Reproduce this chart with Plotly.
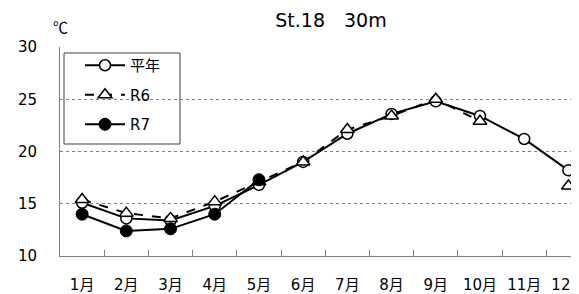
import plotly.graph_objects as go

months = ["1月", "2月", "3月", "4月", "5月", "6月", "7月", "8月", "9月", "10月", "11月", "12月"]
heinen = [15.1, 13.6, 13.4, 14.8, 16.8, 19.0, 21.7, 23.6, 24.8, 23.4, 21.2, 18.2]
r6 = [15.4, 14.1, 13.6, 15.2, 17.1, 19.0, 22.1, 23.4, 25.0, 22.9, None, 16.7]
r7 = [14.0, 12.4, 12.6, 14.0, 17.3, None, None, None, None, None, None, None]

FONT = "DejaVu Sans, Noto Sans CJK JP, sans-serif"

# page body has an 8px default margin: figure sits at (8, 8)
W, H = 571, 286
L, T, B = 52, 39, 38
PW = W - L
PH = H - T - B

fig = go.Figure()
fig.add_trace(go.Scatter(x=months, y=heinen, name="平年", mode="lines+markers",
                         line=dict(color="black", width=2),
                         marker=dict(symbol="circle", size=11, color="white",
                                     line=dict(color="black", width=1.5)),
                         legendgroup="a"))
fig.add_trace(go.Scatter(x=months, y=r6, name="R6", mode="lines+markers",
                         line=dict(color="black", width=2, dash="dash"),
                         connectgaps=False,
                         marker=dict(symbol="triangle-up", size=12, color="white",
                                     line=dict(color="black", width=1.5)),
                         legendgroup="b"))
fig.add_trace(go.Scatter(x=months, y=r7, name="R7", mode="lines+markers",
                         line=dict(color="black", width=2),
                         marker=dict(symbol="circle", size=12, color="black",
                                     line=dict(color="black", width=1)),
                         legendgroup="c"))

fig.update_layout(
    width=W, height=H,
    margin=dict(l=L, r=0, t=T, b=B, autoexpand=False),
    paper_bgcolor="white", plot_bgcolor="white",
    font=dict(family=FONT, size=15, color="black"),
    title=dict(text="St.18\u300030m", x=(331 - 8 - L) / PW, xref="paper", xanchor="center",
               y=1 - 12 / H, yanchor="middle", font=dict(size=19)),
    showlegend=True,
    legend=dict(x=(80 - 60) / PW, y=1 + (47 - 49) / PH, xanchor="left", yanchor="top",
                borderwidth=0, bgcolor="rgba(0,0,0,0)", itemwidth=40,
                font=dict(size=15), traceorder="grouped", tracegroupgap=7),
    xaxis=dict(type="category", range=[-0.5, 11.24], tickson="boundaries",
               ticks="inside", ticklen=6, tickcolor="#808080",
               showline=True, linecolor="#808080", linewidth=1, automargin=False,
               showgrid=False, ticklabelstandoff=15, tickfont=dict(size=15)),
    yaxis=dict(range=[10, 30], tickvals=[10, 15, 20, 25, 30],
               showline=True, linecolor="#808080", linewidth=1, automargin=False,
               showgrid=True, gridcolor="#808080", griddash="dot", gridwidth=1,
               zeroline=False, ticks="", ticklabelstandoff=19, tickfont=dict(size=15)),
    shapes=[dict(type="rect", xref="paper", yref="paper",
                 x0=(64 - 60) / PW, x1=(180 - 60) / PW,
                 y0=(256 - 144) / PH, y1=(256 - 53) / PH,
                 line=dict(color="#404040", width=1), fillcolor="white", layer="below")],
    annotations=[dict(text="℃", xref="paper", yref="paper", x=0, y=1 + (47 - 39) / PH,
                      xanchor="center", yanchor="bottom", showarrow=False,
                      font=dict(size=15, family="Noto Sans CJK JP"))],
)

fig.write_html("out.html")
